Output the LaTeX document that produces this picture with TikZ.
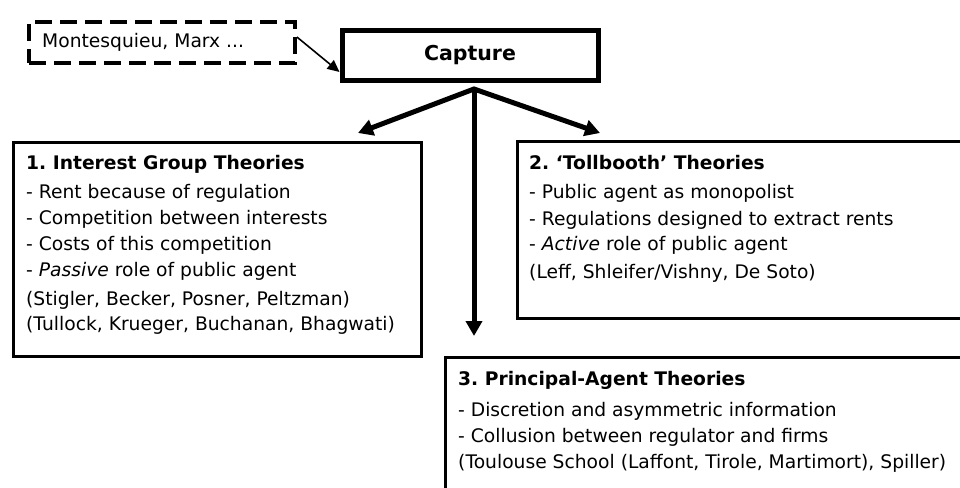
\documentclass[tikz,border=0pt]{standalone}
\usepackage{fontspec}
\setmainfont{DejaVu Sans}
\usetikzlibrary{arrows.meta,calc}
\frenchspacing
\newcommand\myBody{\fontsize{18.7}{22}\selectfont}
\newcommand\myCap{\fontsize{20.5}{24}\selectfont\bfseries}
\tikzset{
  txt/.style={anchor=base west, inner sep=0pt, font=\myBody},
  ttl/.style={anchor=base west, inner sep=0pt, font=\myBody\bfseries},
  theorybox/.style={draw=black, line width=2.8pt, anchor=north west, inner sep=0pt},
  capbox/.style={draw=black, line width=5pt, minimum width=256pt, minimum height=50pt, inner sep=0pt, font=\myCap},
  dashbox/.style={draw=black, line width=3.8pt, dash pattern=on 17pt off 8pt, minimum width=266pt, minimum height=41pt, inner sep=0pt},
  bigarrow/.style={line width=5pt, -{Triangle[length=15pt,width=16pt]}},
  thinarrow/.style={line width=1.6pt, -{Triangle[length=12pt,width=11pt]}}
}
\begin{document}
\begin{tikzpicture}[x=1pt,y=-1pt]
\useasboundingbox (0,0) rectangle (960,487);
\fill[white] (0,0) rectangle (960,487);
\clip (0,0) rectangle (960,487);

% boxes
\node[capbox] (cap) at (470,55.5) {Capture};
\node[dashbox] (src) at (162,42.5) {};
\node[txt] (srct) at (42,48) {Montesquieu, Marx ...};

\node[theorybox, minimum width=408pt, minimum height=214pt] (b1) at (12,141) {};
\node[theorybox, minimum width=480pt, minimum height=177pt] (b2) at (516,140) {};
\node[theorybox, minimum width=560pt, minimum height=180pt] (b3) at (444,356) {};

% box 1 text
\node[ttl] (b1t) at (26,169) {1. Interest Group Theories};
\node[txt] (b1a) at (26,198) {- Rent because of regulation};
\node[txt] (b1b) at (26,224) {- Competition between interests};
\node[txt] (b1c) at (26,250) {- Costs of this competition};
\node[txt] (b1d) at (26,276) {- \textit{Passive} role of public agent};
\node[txt] (b1e) at (26,305) {(Stigler, Becker, Posner, Peltzman)};
\node[txt] (b1f) at (26,330) {(Tullock, Krueger, Buchanan, Bhagwati)};

% box 2 text
\node[ttl] (b2t) at (529,169) {2. ‘Tollbooth’ Theories};
\node[txt] (b2a) at (529,198) {- Public agent as monopolist};
\node[txt] (b2b) at (529,225) {- Regulations designed to extract rents};
\node[txt] (b2c) at (529,250) {- \textit{Active} role of public agent};
\node[txt] (b2d) at (529,278) {(Leff, Shleifer/Vishny, De Soto)};

% box 3 text
\node[ttl] (b3t) at (458,385) {3. Principal-Agent Theories};
\node[txt] (b3a) at (458,416) {- Discretion and asymmetric information};
\node[txt] (b3b) at (458,442) {- Collusion between regulator and firms};
\node[txt] (b3c) at (458,468) {(Toulouse School (Laffont, Tirole, Martimort), Spiller)};

% connectors
\coordinate (apex) at (474,89);
\coordinate (t1) at (358,133);
\coordinate (t2) at (600,133);
\coordinate (t3) at (474,336);
\draw[line width=5pt, {Triangle[length=15pt,width=16pt]}-{Triangle[length=15pt,width=16pt]}] (t1) -- (apex) -- (t2);
\draw[bigarrow] (apex) -- (t3);
\draw[thinarrow] ($(src.east)+(0,-5.5)$) -- ($(cap.west)+(0,16.5)$);
\end{tikzpicture}
\end{document}
